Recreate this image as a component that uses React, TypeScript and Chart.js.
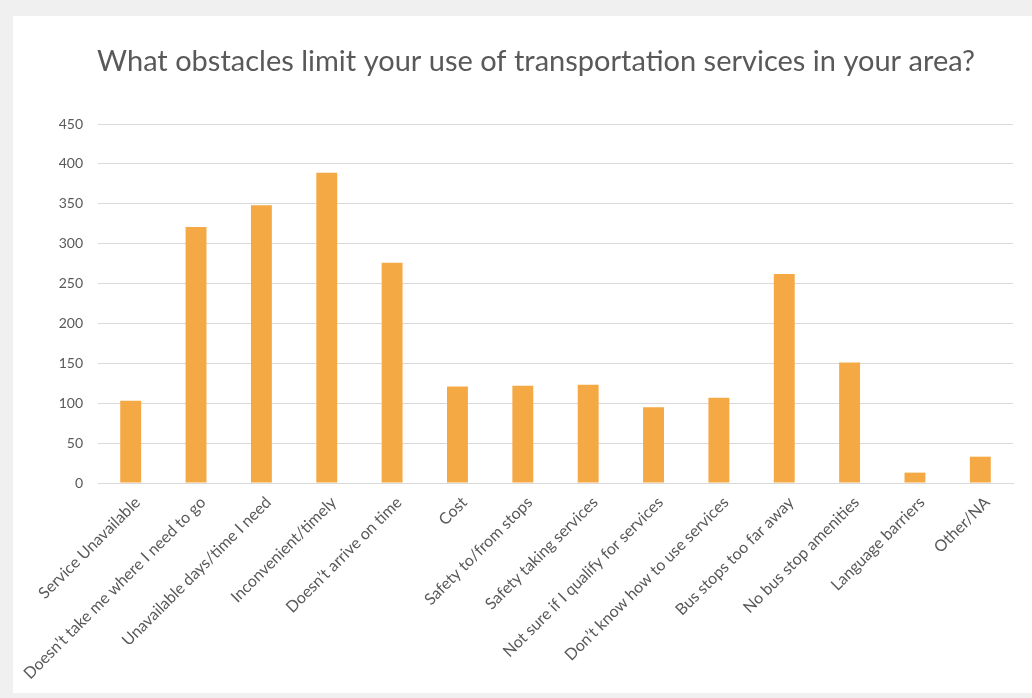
import React, { useEffect, useRef } from "react";
import { Chart, registerables } from "chart.js";

Chart.register(...registerables);

const categories = [
  "Service Unavailable",
  "Doesn’t take me where I need to go",
  "Unavailable days/time I need",
  "Inconvenient/timely",
  "Doesn’t arrive on time",
  "Cost",
  "Safety to/from stops",
  "Safety taking services",
  "Not sure if I qualify for services",
  "Don’t know how to use services",
  "Bus stops too far away",
  "No bus stop amenities",
  "Language barriers",
  "Other/NA",
];

const responses = [103, 321, 348, 389, 276, 121, 122, 123, 95, 107, 262, 151, 13, 33];

const yTicks = [0, 50, 100, 150, 200, 250, 300, 350, 400, 450];

const titleText = "What obstacles limit your use of transportation services in your area?";

const FONT = "Lato, 'Open Sans', sans-serif";
const TEXT_COLOR = "#595959";
const GRID_COLOR = "#d9d9d9";
const BAR_COLOR = "#F5A944";

export default function App() {
  const canvasRef = useRef<HTMLCanvasElement | null>(null);

  useEffect(() => {
    if (!canvasRef.current) return;
    const chart = new Chart(canvasRef.current, {
      type: "bar",
      data: {
        labels: categories,
        datasets: [
          {
            label: "Responses",
            data: responses,
            backgroundColor: BAR_COLOR,
            borderWidth: 0,
            barPercentage: 0.64,
            categoryPercentage: 0.5,
          },
        ],
      },
      options: {
        responsive: false,
        animation: false,
        layout: { padding: { left: 46, right: 19, top: 0, bottom: 0 } },
        plugins: {
          legend: { display: false },
          tooltip: { enabled: false },
          title: {
            display: true,
            text: titleText,
            color: TEXT_COLOR,
            font: { family: FONT, size: 29, weight: "normal" },
            padding: { top: 28.6, bottom: 44.6 },
          },
        },
        scales: {
          x: {
            grid: { display: false },
            border: { display: true, color: GRID_COLOR },
            afterFit: (scale: any) => {
              scale.height = 210;
            },
            ticks: {
              autoSkip: false,
              minRotation: 45,
              maxRotation: 45,
              padding: 2,
              labelOffset: 7,
              color: TEXT_COLOR,
              font: { family: FONT, size: 16 },
            },
          },
          y: {
            min: 0,
            max: 450,
            afterFit: (scale: any) => {
              scale.width = 39;
            },
            afterBuildTicks: (scale: any) => {
              scale.ticks = yTicks.map((v) => ({ value: v }));
            },
            grid: { color: GRID_COLOR, drawTicks: false },
            border: { display: false },
            ticks: {
              padding: 15,
              color: TEXT_COLOR,
              font: { family: FONT, size: 14 },
            },
          },
        },
      },
    });
    return () => chart.destroy();
  }, []);

  return (
    <div
      style={{
        position: "fixed",
        left: 0,
        top: 0,
        width: 1032,
        height: 698,
        background: "#f0f0f0",
        overflow: "hidden",
      }}
    >
      <div
        style={{
          position: "absolute",
          left: 13,
          top: 16,
          width: 1019,
          height: 677,
          background: "#ffffff",
        }}
      >
        <canvas ref={canvasRef} width={1019} height={677} style={{ display: "block" }} />
      </div>
    </div>
  );
}
